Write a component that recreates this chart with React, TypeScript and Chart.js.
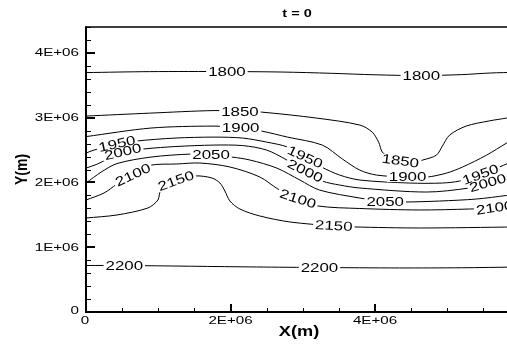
import React, { useEffect, useRef } from "react";
import { Chart, registerables } from "chart.js";

Chart.register(...registerables);

type Pt = [number, number];
type Spot = [number, number, number]; // x, y, angle (deg)

// Coordinates are in units of 1E+06 m.
const xRange: [number, number] = [0, 5.95];
const yRange: [number, number] = [0, 4.4];
const xMajorTicks = [0, 2, 4];
const yMajorTicks = [0, 1, 2, 3, 4];
const xMinorStep = 0.5;
const yMinorStep = 0.2;

const levels = [1800, 1850, 1900, 1950, 2000, 2050, 2100, 2150, 2200];

const line1800: Pt[] = [
  [0, 3.696], [0.88, 3.711], [1.95, 3.712], [2.7, 3.705], [3.4, 3.685],
  [4.0, 3.662], [4.64, 3.65], [5.2, 3.665], [5.6, 3.69], [5.95, 3.7],
];
const line1850: Pt[] = [
  [0, 3.025], [0.88, 3.07], [1.77, 3.11], [2.13, 3.096], [2.43, 3.086],
  [3.19, 2.994], [3.79, 2.886], [3.96, 2.778], [4.05, 2.62], [4.1, 2.47],
  [4.23, 2.36], [4.35, 2.33], [4.52, 2.315], [4.66, 2.346], [4.85, 2.423],
  [4.93, 2.56], [5.03, 2.73], [5.26, 2.87], [5.58, 2.95], [5.82, 2.994],
  [5.95, 3.02],
];
const line1900: Pt[] = [
  [0, 2.708], [0.9, 2.84], [1.77, 2.87], [2.14, 2.841], [2.43, 2.793],
  [2.79, 2.7], [3.27, 2.577], [3.55, 2.36], [3.79, 2.19], [4.02, 2.114],
  [4.45, 2.083], [4.72, 2.083], [4.99, 2.145], [5.21, 2.238], [5.54, 2.42],
  [5.82, 2.608], [5.95, 2.69],
];
const line1950: Pt[] = [
  [0, 2.454], [0.11, 2.5], [0.43, 2.594], [0.7, 2.64], [1.23, 2.685],
  [1.77, 2.7], [2.17, 2.685], [2.5, 2.623], [2.79, 2.546], [3.03, 2.39],
  [3.26, 2.238], [3.51, 2.114], [3.79, 2.037], [4.48, 1.991], [4.93, 1.991],
  [5.17, 2.022], [5.46, 2.12], [5.72, 2.238], [5.95, 2.35],
];
const line2000: Pt[] = [
  [0, 2.222], [0.15, 2.28], [0.51, 2.47], [0.83, 2.52], [1.23, 2.554],
  [1.77, 2.577], [2.17, 2.569], [2.5, 2.5], [2.78, 2.346], [3.03, 2.176],
  [3.27, 2.022], [3.51, 1.96], [3.79, 1.914], [4.71, 1.852], [5.3, 1.914],
  [5.56, 1.99], [5.82, 2.083], [5.95, 2.14],
];
const line2050: Pt[] = [
  [0, 1.991], [0.21, 2.16], [0.43, 2.292], [0.9, 2.392], [1.45, 2.438],
  [1.73, 2.423], [2.02, 2.392], [2.27, 2.346], [2.64, 2.222], [2.96, 2.037],
  [3.23, 1.883], [3.79, 1.759], [4.14, 1.705], [4.41, 1.698], [4.89, 1.713],
  [5.4, 1.744], [5.82, 1.8], [5.95, 1.83],
];
const line2100: Pt[] = [
  [0, 1.729], [0.249, 1.837], [0.422, 1.969], [0.65, 2.115], [0.878, 2.262],
  [1.258, 2.285], [1.576, 2.3], [1.991, 2.239], [2.406, 2.084], [2.655, 1.899],
  [2.931, 1.745], [3.208, 1.637], [3.788, 1.598], [4.618, 1.575], [5.309, 1.59],
  [5.655, 1.606], [5.95, 1.645],
];
const line2150: Pt[] = [
  [0, 1.451], [0.429, 1.498], [0.857, 1.606], [0.995, 1.729], [1.037, 1.884],
  [1.244, 2.022], [1.507, 2.1], [1.742, 2.069], [1.853, 1.992], [1.922, 1.868],
  [1.991, 1.714], [2.129, 1.59], [2.406, 1.482], [2.82, 1.39], [3.429, 1.328],
  [3.719, 1.313], [4.618, 1.297], [5.95, 1.313],
];
const line2200: Pt[] = [
  [0, 0.718], [0.53, 0.718], [2.36, 0.695], [3.23, 0.687], [4.34, 0.68],
  [5.2, 0.683], [5.95, 0.694],
];

const labels1800: Spot[] = [[1.95, 3.712, 0], [4.64, 3.65, 0]];
const labels1850: Spot[] = [[2.13, 3.096, 0], [4.35, 2.33, 8]];
const labels1900: Spot[] = [[2.14, 2.841, 0], [4.45, 2.083, 0]];
const labels1950: Spot[] = [[0.43, 2.594, -12], [3.03, 2.39, 25], [5.46, 2.12, -20]];
const labels2000: Spot[] = [[0.51, 2.47, -13], [3.03, 2.176, 26], [5.56, 1.99, -16]];
const labels2050: Spot[] = [[1.73, 2.423, 0], [4.14, 1.705, 0]];
const labels2100: Spot[] = [[0.65, 2.115, -25], [2.931, 1.745, 18], [5.655, 1.606, -8]];
const labels2150: Spot[] = [[1.244, 2.022, -20], [3.429, 1.328, 3]];
const labels2200: Spot[] = [[0.53, 0.718, 0], [3.23, 0.687, 0]];

const contourLines = [line1800, line1850, line1900, line1950, line2000, line2050, line2100, line2150, line2200];
const contourLabels = [labels1800, labels1850, labels1900, labels1950, labels2000, labels2050, labels2100, labels2150, labels2200];

const FONT = '"Liberation Sans", Arial, Helvetica, sans-serif';

const tickText = (v: number) => (v === 0 ? "0" : `${v}E+06`);

function drawText(
  ctx: CanvasRenderingContext2D,
  text: string,
  x: number,
  y: number,
  font: string,
  sx: number,
  align: CanvasTextAlign = "center",
  angle = 0
) {
  ctx.save();
  ctx.translate(x, y);
  ctx.scale(sx, 1);
  if (angle) ctx.rotate(angle);
  ctx.font = font;
  ctx.textAlign = align;
  ctx.textBaseline = "middle";
  ctx.fillStyle = "#000";
  ctx.fillText(text, 0, 0);
  ctx.restore();
}

// Inline contour labels: white box over the line, then the level value.
const contourLabelPlugin = {
  id: "contourLabels",
  afterDatasetsDraw(chart: Chart) {
    const ctx = chart.ctx;
    const xs = chart.scales.x;
    const ys = chart.scales.y;
    const sx = 1.3;
    ctx.save();
    ctx.font = `13px ${FONT}`;
    const place = (spot: Spot) => {
      ctx.translate(xs.getPixelForValue(spot[0]), ys.getPixelForValue(spot[1]));
      ctx.rotate((spot[2] * Math.PI) / 180);
      ctx.scale(sx, 1);
    };
    contourLabels.forEach((spots, i) => {
      const text = String(levels[i]);
      const w = ctx.measureText(text).width;
      spots.forEach((s) => {
        ctx.save();
        place(s);
        ctx.fillStyle = "#fff";
        ctx.fillRect(-w / 2 - 1.5, -5, w + 3, 10);
        ctx.restore();
      });
    });
    ctx.fillStyle = "#000";
    ctx.textAlign = "center";
    ctx.textBaseline = "middle";
    contourLabels.forEach((spots, i) => {
      const text = String(levels[i]);
      spots.forEach((s) => {
        ctx.save();
        place(s);
        ctx.fillText(text, 0, 0.5);
        ctx.restore();
      });
    });
    ctx.restore();
  },
};

// Frame, inward ticks, tick labels and titles.
const framePlugin = {
  id: "frame",
  afterDraw(chart: Chart) {
    const ctx = chart.ctx;
    const ca = chart.chartArea;
    const xs = chart.scales.x;
    const ys = chart.scales.y;
    ctx.save();
    ctx.strokeStyle = "#000";
    ctx.lineCap = "butt";

    // top and right border
    ctx.lineWidth = 1.5;
    ctx.beginPath();
    ctx.moveTo(ca.left, ca.top);
    ctx.lineTo(ca.right, ca.top);
    ctx.lineTo(ca.right, ca.bottom);
    ctx.stroke();

    // minor ticks
    ctx.lineWidth = 1;
    ctx.beginPath();
    for (let i = 0; i * yMinorStep <= yRange[1] + 1e-9; i++) {
      const v = i * yMinorStep;
      if (yMajorTicks.some((m) => Math.abs(m - v) < 1e-6)) continue;
      const py = Math.round(ys.getPixelForValue(v)) + 0.5;
      ctx.moveTo(ca.left, py);
      ctx.lineTo(ca.left + 5, py);
    }
    for (let i = 0; i * xMinorStep <= xRange[1] + 1e-9; i++) {
      const v = i * xMinorStep;
      if (xMajorTicks.some((m) => Math.abs(m - v) < 1e-6)) continue;
      const px = Math.round(xs.getPixelForValue(v)) + 0.5;
      ctx.moveTo(px, ca.bottom);
      ctx.lineTo(px, ca.bottom - 4);
    }
    ctx.stroke();

    // major ticks
    ctx.lineWidth = 2;
    ctx.beginPath();
    yMajorTicks.forEach((v) => {
      const py = Math.round(ys.getPixelForValue(v));
      ctx.moveTo(ca.left, py);
      ctx.lineTo(ca.left + 9, py);
    });
    xMajorTicks.forEach((v) => {
      const px = Math.round(xs.getPixelForValue(v));
      ctx.moveTo(px, ca.bottom);
      ctx.lineTo(px, ca.bottom - 8);
    });
    ctx.stroke();

    // left and bottom axes
    ctx.lineWidth = 2;
    ctx.beginPath();
    ctx.moveTo(ca.left, ca.top - 0.75);
    ctx.lineTo(ca.left, ca.bottom);
    ctx.lineTo(ca.right, ca.bottom);
    ctx.stroke();

    // tick labels
    const tickFont = `11px ${FONT}`;
    yMajorTicks.forEach((v) => {
      const py = ys.getPixelForValue(v) + (v === 0 ? -1.5 : 0.5);
      drawText(ctx, tickText(v), ca.left - 7, py, tickFont, 1.38, "right");
    });
    xMajorTicks.forEach((v) => {
      const px = xs.getPixelForValue(v) - (v === 0 ? 1 : 0);
      drawText(ctx, tickText(v), px, ca.bottom + 9, tickFont, 1.38, "center");
    });

    // titles
    const midX = (ca.left + ca.right) / 2;
    drawText(ctx, "t = 0", midX - 4, 14, `bold 10px ${FONT}`, 1.45);
    drawText(ctx, "X(m)", midX - 2, ca.bottom + 20, `bold 14px ${FONT}`, 1.3);
    drawText(ctx, "Y(m)", ca.left - 64, (ca.top + ca.bottom) / 2, `bold 14px ${FONT}`, 1.2, "center", -Math.PI / 2);

    ctx.restore();
  },
};

export default function App() {
  const ref = useRef<HTMLCanvasElement>(null);

  useEffect(() => {
    if (!ref.current) return;
    const chart = new Chart(ref.current, {
      type: "scatter",
      data: {
        datasets: contourLines.map((pts, i) => ({
          label: String(levels[i]),
          data: pts.map(([x, y]) => ({ x, y })),
          showLine: true,
          borderColor: "#000",
          borderWidth: 1,
          pointRadius: 0,
          fill: false,
          tension: 0.3,
        })),
      },
      options: {
        responsive: false,
        animation: false,
        devicePixelRatio: 1,
        events: [],
        layout: { padding: { left: 86, top: 27, right: 44, bottom: 33 } },
        plugins: {
          legend: { display: false },
          tooltip: { enabled: false },
          title: { display: false },
        },
        scales: {
          x: { type: "linear", min: xRange[0], max: xRange[1], display: false },
          y: { type: "linear", min: yRange[0], max: yRange[1], display: false },
        },
      },
      plugins: [contourLabelPlugin, framePlugin],
    });
    return () => chart.destroy();
  }, []);

  return (
    <div
      style={{
        position: "fixed",
        left: 0,
        top: 0,
        width: 507,
        height: 345,
        overflow: "hidden",
        background: "#fff",
      }}
    >
      <canvas ref={ref} width={560} height={345} style={{ display: "block", width: 560, height: 345 }} />
    </div>
  );
}
